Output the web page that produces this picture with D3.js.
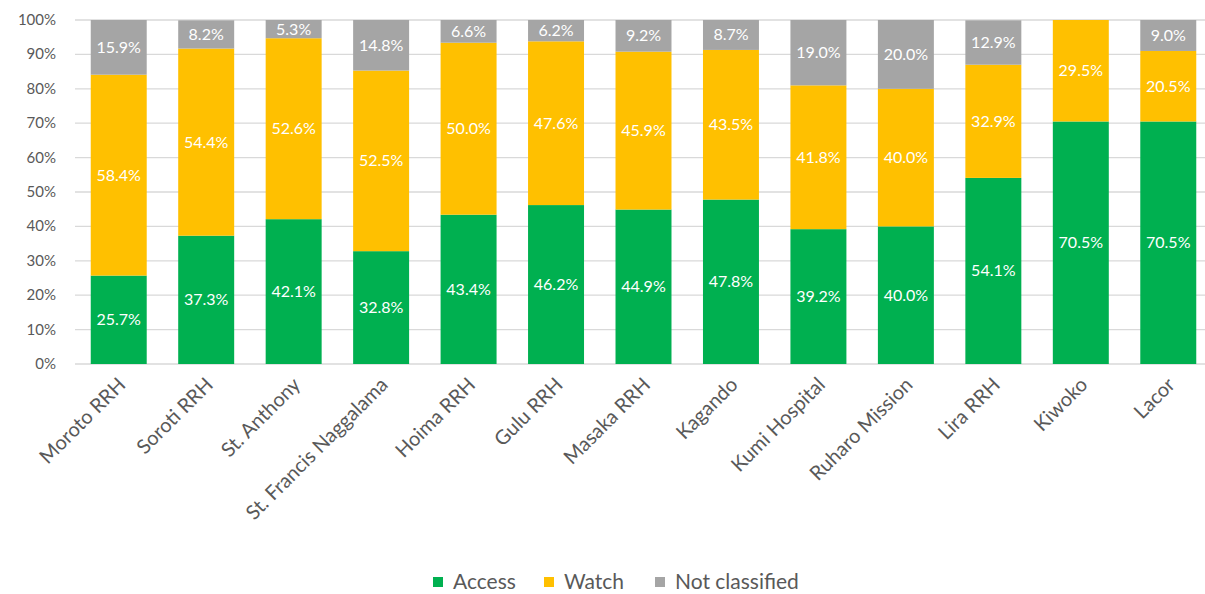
<!DOCTYPE html>
<html>
<head>
<meta charset="utf-8">
<script src="https://cdn.jsdelivr.net/npm/d3@7"></script>
<style>
    body { margin: 0; background: #fff; }
    text { font-family: Lato, "Open Sans", sans-serif; }
    .tick-y { fill: #595959; font-size: 15px; }
    .tick-x { fill: #595959; font-size: 20px; }
    .seg-label { fill: #fff; font-size: 16px; }
    .legend-label { fill: #595959; font-size: 21px; }
</style>
</head>
<body>
<div id="chart"></div>
<script>
const hospitals = ['Moroto RRH', 'Soroti RRH', 'St. Anthony', 'St. Francis Naggalama', 'Hoima RRH', 'Gulu RRH',
    'Masaka RRH', 'Kagando', 'Kumi Hospital', 'Ruharo Mission', 'Lira RRH', 'Kiwoko', 'Lacor']
const access = [25.7, 37.3, 42.1, 32.8, 43.4, 46.2, 44.9, 47.8, 39.2, 40.0, 54.1, 70.5, 70.5]
const watch = [58.4, 54.4, 52.6, 52.5, 50.0, 47.6, 45.9, 43.5, 41.8, 40.0, 32.9, 29.5, 20.5]
const notClassified = [15.9, 8.2, 5.3, 14.8, 6.6, 6.2, 9.2, 8.7, 19.0, 20.0, 12.9, 0, 9.0]
const seriesNames = ['Access', 'Watch', 'Not classified']
const colors = ['#00b050', '#ffc000', '#a5a5a5']
const yTicks = [0, 10, 20, 30, 40, 50, 60, 70, 80, 90, 100]

drawChart()
function drawChart() {
    const dim = { width: 1205, height: 594 }
    const plot = { left: 75, right: 1212, top: 20, bottom: 364 }

    const svg = d3.select('#chart').append('svg')
        .attr('width', dim.width).attr('height', dim.height)

    const table = hospitals.map((h, i) => ({
        name: h, Access: access[i], Watch: watch[i], 'Not classified': notClassified[i]
    }))
    const stacked = d3.stack().keys(seriesNames)(table)

    const xScale = d3.scaleBand()
        .domain(hospitals)
        .range([plot.left, plot.right])
        .paddingInner(0.36).paddingOuter(0.18)
    const yScale = d3.scaleLinear()
        .domain([0, 100])
        .range([plot.bottom, plot.top])

    // gridlines
    svg.append('g').selectAll('line').data(yTicks).join('line')
        .attr('x1', plot.left).attr('x2', dim.width)
        .attr('y1', d => yScale(d)).attr('y2', d => yScale(d))
        .attr('stroke', '#d9d9d9').attr('stroke-width', 1.3)

    svg.append('g').selectAll('text').data(yTicks).join('text')
        .attr('class', 'tick-y')
        .attr('x', 56).attr('y', d => yScale(d) + 5)
        .attr('text-anchor', 'end')
        .text(d => d + '%')

    const layers = svg.append('g').selectAll('g').data(stacked).join('g')
        .attr('fill', (d, i) => colors[i])
    layers.selectAll('rect').data(d => d).join('rect')
        .attr('x', d => xScale(d.data.name))
        .attr('width', xScale.bandwidth())
        .attr('y', d => yScale(Math.min(d[1], 100)))
        .attr('height', d => Math.max(0, yScale(d[0]) - yScale(Math.min(d[1], 100))))

    const labels = svg.append('g').selectAll('g').data(stacked).join('g')
    labels.selectAll('text').data(d => d.filter(s => s[1] - s[0] > 0)).join('text')
        .attr('class', 'seg-label')
        .attr('x', d => xScale(d.data.name) + xScale.bandwidth() / 2)
        .attr('y', d => yScale((d[0] + Math.min(d[1], 100)) / 2) + 5.5)
        .attr('text-anchor', 'middle')
        .text(d => (d[1] - d[0]).toFixed(1) + '%')

    svg.append('g').selectAll('text').data(hospitals).join('text')
        .attr('class', 'tick-x')
        .attr('text-anchor', 'end')
        .attr('transform', d => `translate(${xScale(d) + xScale.bandwidth() / 2 + 8}, ${plot.bottom + 22}) rotate(-45)`)
        .text(d => d)

    // legend
    const legendX = [433, 544, 655]
    const legend = svg.append('g').selectAll('g').data(seriesNames).join('g')
        .attr('transform', (d, i) => `translate(${legendX[i]}, 582)`)
    legend.append('rect')
        .attr('x', 0).attr('y', -5).attr('width', 10).attr('height', 10)
        .attr('fill', (d, i) => colors[i])
    legend.append('text')
        .attr('class', 'legend-label')
        .attr('x', 20).attr('y', 7)
        .text(d => d)
}
</script>
</body>
</html>
